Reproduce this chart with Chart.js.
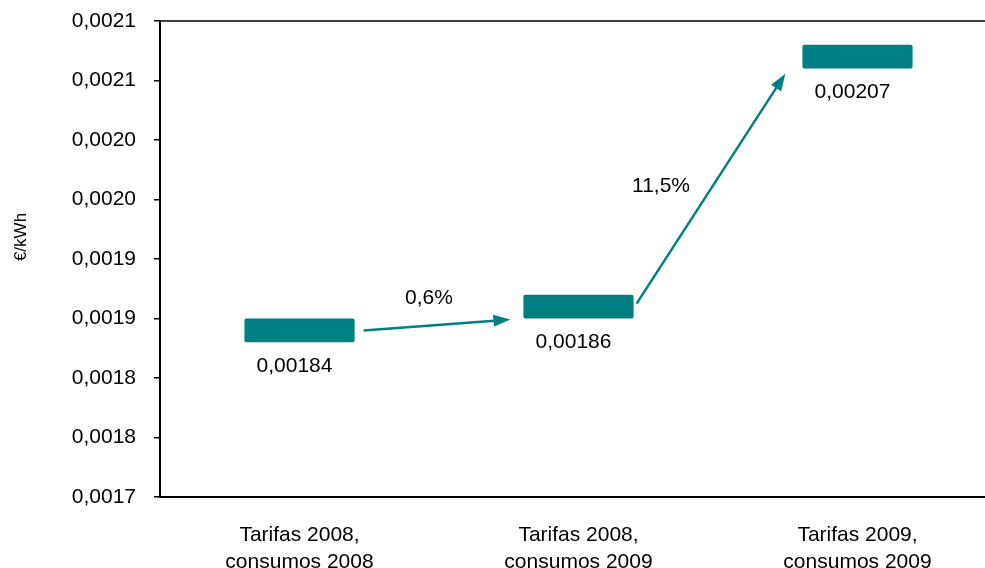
<!DOCTYPE html>
<html>
<head>
<meta charset="utf-8">
<title>Tarifas y consumos</title>
<script src="https://cdn.jsdelivr.net/npm/chart.js@4.4.0/dist/chart.umd.min.js"></script>
<style>
  html, body { margin: 0; padding: 0; background: #fff; overflow: hidden; }
  #wrap { width: 1000px; height: 568px; }
</style>
</head>
<body>
<div id="wrap"><canvas id="priceChart" width="1000" height="568"></canvas></div>
<script>
const categories = [
  ['Tarifas 2008,', 'consumos 2008'],
  ['Tarifas 2008,', 'consumos 2009'],
  ['Tarifas 2009,', 'consumos 2009']
];
const prices = [0.00184, 0.00186, 0.00207];
const changes = ['0,6%', '11,5%'];
const yTicks = [0.0017, 0.00175, 0.0018, 0.00185, 0.0019, 0.00195, 0.0020, 0.00205, 0.0021];
const yTickLabels = ['0,0017', '0,0018', '0,0018', '0,0019', '0,0019', '0,0020', '0,0020', '0,0021', '0,0021'];

const TEAL = '#008080';
const BAR_HALF = 0.00001; // half the marker height, in €/kWh

Chart.defaults.font.family = "'Liberation Sans', Arial, sans-serif";
Chart.defaults.font.size = 21;
Chart.defaults.color = '#000';

const fmt = v => v.toFixed(5).replace('.', ',');

// arrows between markers: px offsets from marker edges, and for the % label
const arrows = [
  { from: 0, to: 1, x0: 9, y0: 0, x1: -13, y1: 13, lx: -8, ly: -27 },
  { from: 1, to: 2, x0: 3, y0: -3, x1: -17, y1: 17, lx: -50, ly: -2 }
];

const overlay = {
  id: 'overlay',
  afterDatasetsDraw(chart) {
    const { ctx, chartArea: a } = chart;
    const y = chart.scales.y;
    const bars = chart.getDatasetMeta(0).data;
    ctx.save();

    // frame: top and right edges
    ctx.strokeStyle = '#000';
    ctx.lineWidth = 1.5;
    ctx.beginPath();
    ctx.moveTo(a.left, a.top);
    ctx.lineTo(a.right, a.top);
    ctx.lineTo(a.right, a.bottom);
    ctx.stroke();

    // change arrows
    ctx.strokeStyle = TEAL;
    ctx.fillStyle = TEAL;
    ctx.lineWidth = 2.5;
    arrows.forEach((ar, i) => {
      const b0 = bars[ar.from], b1 = bars[ar.to];
      const sx = b0.x + b0.width / 2 + ar.x0;
      const sy = y.getPixelForValue(prices[ar.from]) + ar.y0;
      const ex = b1.x - b1.width / 2 + ar.x1;
      const ey = y.getPixelForValue(prices[ar.to]) + ar.y1;
      const ang = Math.atan2(ey - sy, ex - sx);
      const c = Math.cos(ang), s = Math.sin(ang);
      const hl = 17, hw = 6;
      const bx = ex - hl * c, by = ey - hl * s;
      ctx.beginPath();
      ctx.moveTo(sx, sy);
      ctx.lineTo(bx + c, by + s);
      ctx.stroke();
      ctx.beginPath();
      ctx.moveTo(ex, ey);
      ctx.lineTo(bx - hw * s, by + hw * c);
      ctx.lineTo(bx + hw * s, by - hw * c);
      ctx.closePath();
      ctx.fill();

      ctx.save();
      ctx.fillStyle = '#000';
      ctx.font = "21px 'Liberation Sans', Arial, sans-serif";
      ctx.textAlign = 'center';
      ctx.textBaseline = 'middle';
      ctx.fillText(changes[i], (sx + ex) / 2 + ar.lx, (sy + ey) / 2 + ar.ly);
      ctx.restore();
    });

    // value labels under each marker
    ctx.fillStyle = '#000';
    ctx.font = "21px 'Liberation Sans', Arial, sans-serif";
    ctx.textAlign = 'center';
    ctx.textBaseline = 'middle';
    bars.forEach((b, i) => {
      ctx.fillText(fmt(prices[i]), b.x - 5, y.getPixelForValue(prices[i]) + 36);
    });

    // y axis title
    ctx.translate(21, 237);
    ctx.rotate(-Math.PI / 2);
    ctx.font = "17px 'Liberation Sans', Arial, sans-serif";
    ctx.fillText('€/kWh', 0, 0);
    ctx.restore();
  }
};

new Chart(document.getElementById('priceChart'), {
  type: 'bar',
  data: {
    labels: categories,
    datasets: [{
      data: prices.map(v => [v - BAR_HALF, v + BAR_HALF]),
      backgroundColor: TEAL,
      borderWidth: 0,
      borderRadius: 2,
      borderSkipped: false,
      barPercentage: 0.395,
      categoryPercentage: 1
    }]
  },
  options: {
    responsive: false,
    animation: false,
    devicePixelRatio: 1,
    layout: { padding: { top: 21, right: 3, left: 0, bottom: 0 } },
    plugins: {
      legend: { display: false },
      tooltip: { enabled: false }
    },
    scales: {
      x: {
        grid: { display: false },
        border: { display: true, color: '#000', width: 2 },
        ticks: { padding: 17, maxRotation: 0, font: { size: 21, lineHeight: 1.28 } },
        afterFit(scale) {
          scale.height = 71;
          scale.paddingLeft = 0;
          scale.paddingRight = 0;
        }
      },
      y: {
        min: 0.0017,
        max: 0.0021,
        afterBuildTicks(scale) { scale.ticks = yTicks.map(v => ({ value: v })); },
        grid: {
          drawOnChartArea: false,
          drawTicks: true,
          tickLength: 6,
          tickColor: '#000',
          lineWidth: 1.5
        },
        border: { display: true, color: '#000', width: 2 },
        ticks: {
          padding: 18,
          font: { size: 21 },
          callback: (v, i) => yTickLabels[i]
        },
        afterFit(scale) {
          scale.width = 160;
          scale.paddingTop = 0;
          scale.paddingBottom = 0;
        }
      }
    }
  },
  plugins: [overlay]
});
</script>
</body>
</html>
